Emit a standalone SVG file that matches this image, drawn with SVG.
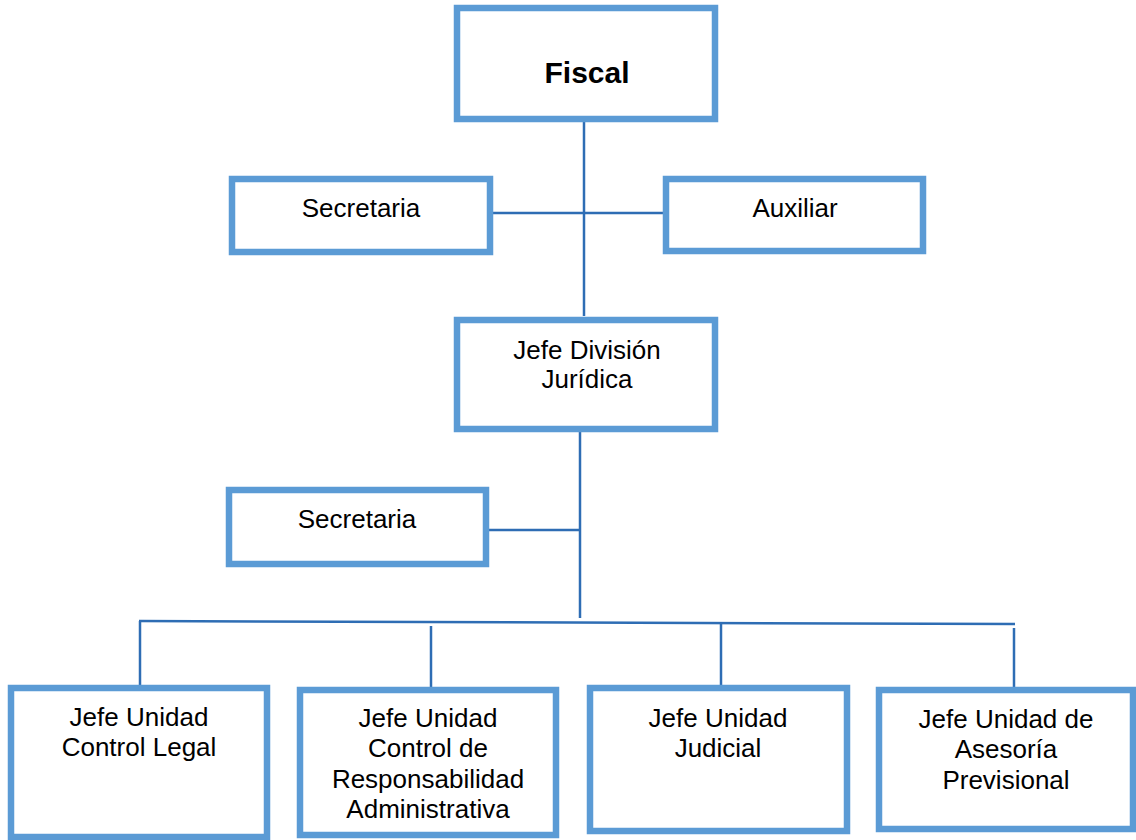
<svg xmlns="http://www.w3.org/2000/svg" width="1136" height="840" viewBox="0 0 1136 840">
<style>
.box{fill:#fff;stroke:#5B9BD5;stroke-width:6.5}
.t{font-family:"Liberation Sans",Arial,sans-serif;font-size:26px;fill:#000;text-anchor:middle}
.b{font-weight:bold;font-size:30px}
.ln{stroke:#2E6DB4;stroke-width:2.5;fill:none}
</style>
<rect width="1136" height="840" fill="#fff"/>
<g id="connectors">
<line class="ln" x1="584" y1="122" x2="584" y2="316"/>
<line class="ln" x1="493" y1="213" x2="663" y2="213"/>
<line class="ln" x1="580" y1="432" x2="580" y2="618"/>
<line class="ln" x1="489" y1="530" x2="580" y2="530"/>
<line class="ln" x1="139" y1="621" x2="1015" y2="624"/>
<line class="ln" x1="140" y1="621" x2="140" y2="686"/>
<line class="ln" x1="431" y1="626" x2="431" y2="688"/>
<line class="ln" x1="721" y1="623" x2="721" y2="686"/>
<line class="ln" x1="1014" y1="628" x2="1014" y2="690"/>
</g>
<g id="fiscal">
<rect class="box" x="457" y="8" width="258" height="111"/>
<text class="t b" x="587" y="83">Fiscal</text>
</g>
<g id="secretaria1">
<rect class="box" x="232" y="179" width="258" height="73"/>
<text class="t" x="361" y="217">Secretaria</text>
</g>
<g id="auxiliar">
<rect class="box" x="666" y="179" width="257" height="72"/>
<text class="t" x="795" y="217">Auxiliar</text>
</g>
<g id="jefe-division">
<rect class="box" x="457" y="320" width="258" height="109"/>
<text class="t" x="587" y="359">Jefe División</text>
<text class="t" x="587" y="388">Jurídica</text>
</g>
<g id="secretaria2">
<rect class="box" x="229" y="490" width="257" height="74"/>
<text class="t" x="357" y="528">Secretaria</text>
</g>
<g id="control-legal">
<rect class="box" x="11" y="688" width="256" height="149"/>
<text class="t" x="139" y="726">Jefe Unidad</text>
<text class="t" x="139" y="756">Control Legal</text>
</g>
<g id="responsabilidad">
<rect class="box" x="300" y="690" width="256" height="145"/>
<text class="t" x="428" y="727">Jefe Unidad</text>
<text class="t" x="428" y="757">Control de</text>
<text class="t" x="428" y="788">Responsabilidad</text>
<text class="t" x="428" y="818">Administrativa</text>
</g>
<g id="judicial">
<rect class="box" x="590" y="688" width="257" height="143"/>
<text class="t" x="718" y="727">Jefe Unidad</text>
<text class="t" x="718" y="757">Judicial</text>
</g>
<g id="asesoria">
<rect class="box" x="879" y="690" width="254" height="139"/>
<text class="t" x="1006" y="728">Jefe Unidad de</text>
<text class="t" x="1006" y="758">Asesoría</text>
<text class="t" x="1006" y="789">Previsional</text>
</g>
</svg>
